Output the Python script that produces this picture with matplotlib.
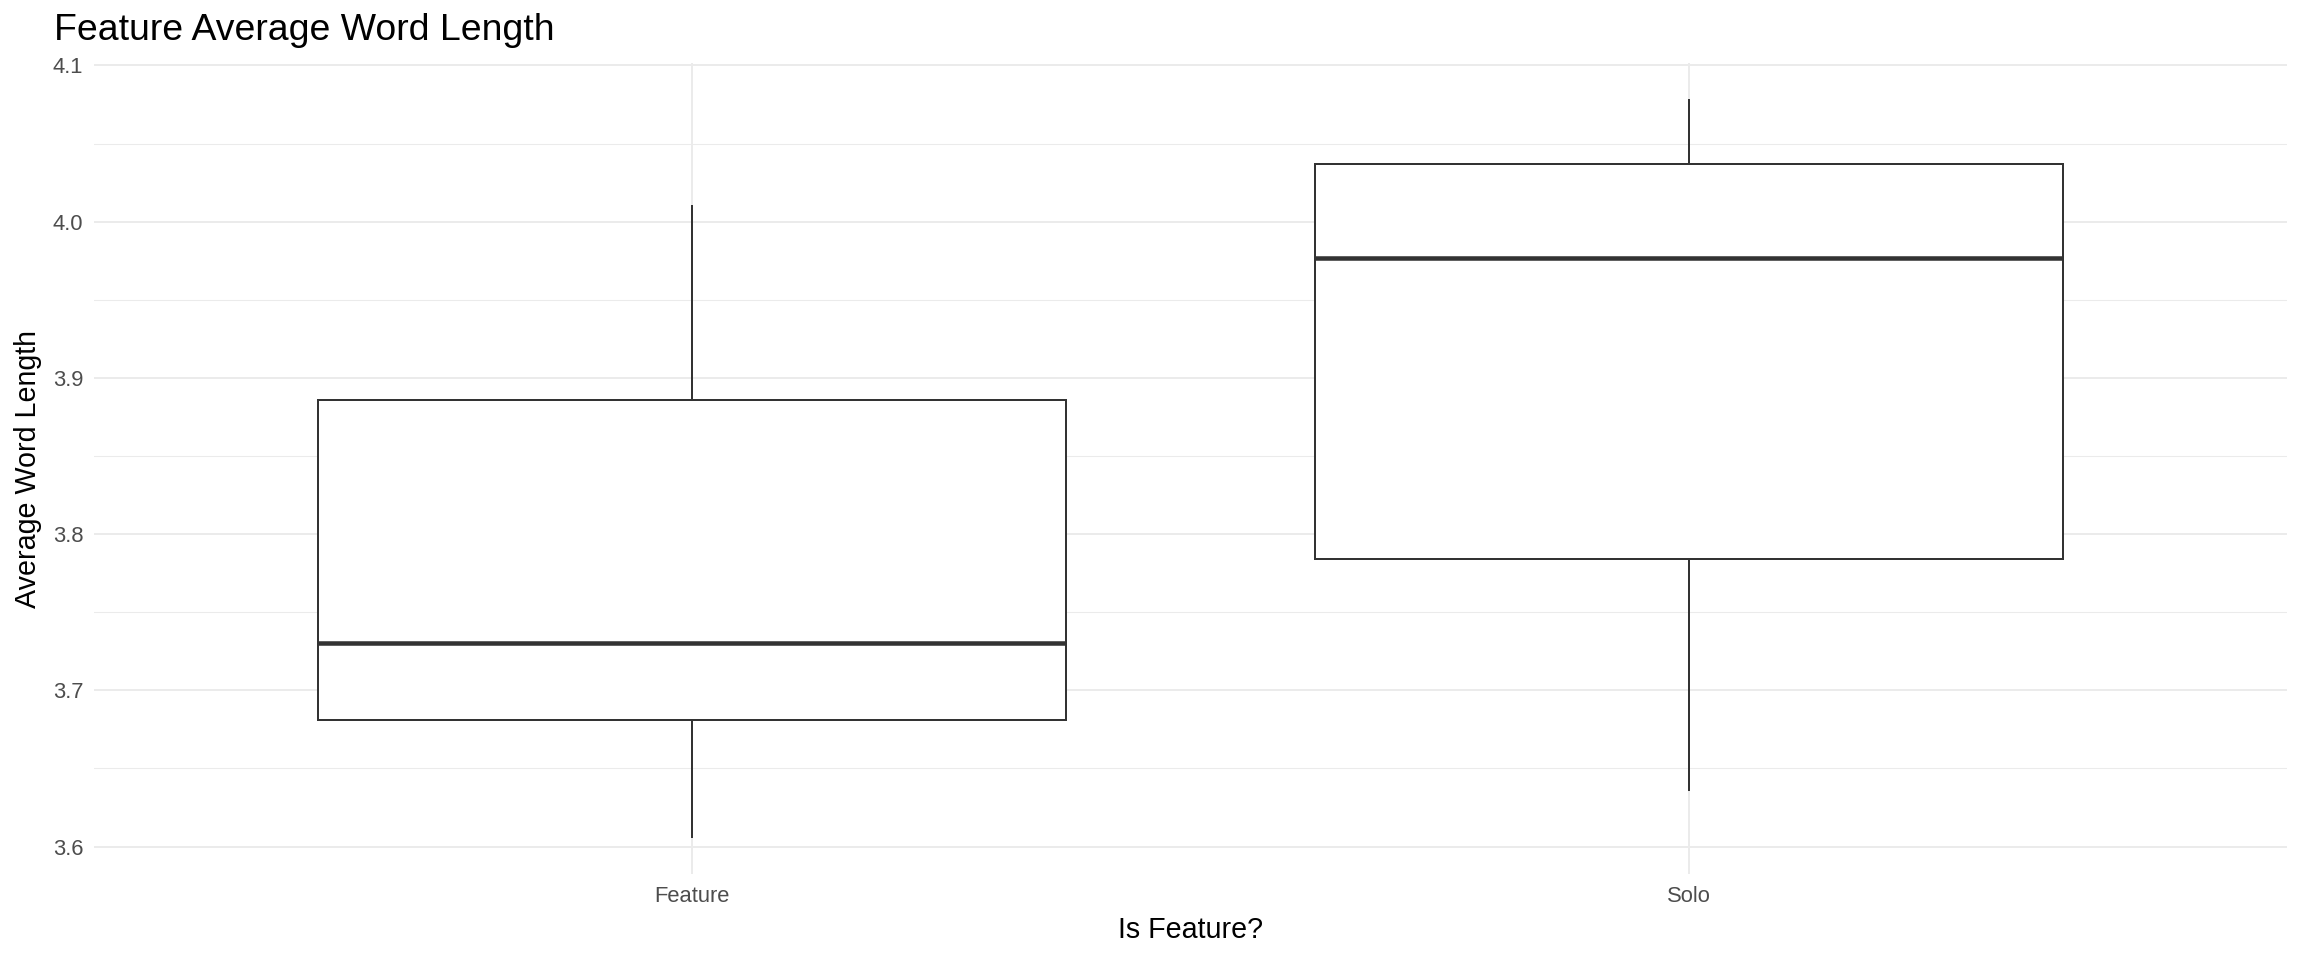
import numpy as np
import matplotlib
matplotlib.use("Agg")
import matplotlib.pyplot as plt
from matplotlib.ticker import MultipleLocator, FormatStrFormatter

plt.rcParams['font.family'] = ['Liberation Sans', 'DejaVu Sans']

# box statistics
groups = ['Feature', 'Solo']
whis_lo = [3.606, 3.636]
q1 = [3.681, 3.784]
med = [3.730, 3.977]
q3 = [3.886, 4.037]
whis_hi = [4.010, 4.078]

stats = []
for i, g in enumerate(groups):
    stats.append(dict(label=g, whislo=whis_lo[i], q1=q1[i], med=med[i],
                      q3=q3[i], whishi=whis_hi[i], fliers=[]))

fig = plt.figure(figsize=(24, 10), dpi=96)
ax = fig.add_axes([94/2304, 1-874/960, (2287-94)/2304, (874-63)/960])

pos = np.arange(1, len(groups)+1)
ax.bxp(stats, positions=pos, widths=0.75, showcaps=False, patch_artist=True,
       boxprops=dict(facecolor='white', edgecolor='#333333', linewidth=1.5),
       whiskerprops=dict(color='#333333', linewidth=1.5),
       medianprops=dict(color='#333333', linewidth=3.4, solid_capstyle='butt'),
       zorder=3)

lo = min(whis_lo); hi = max(whis_hi)
pad = (hi - lo) * 0.05
ax.set_ylim(lo - pad, hi + pad)
ax.set_xlim(0.4, len(groups) + 0.6)

ax.yaxis.set_major_locator(MultipleLocator(0.1))
ax.yaxis.set_minor_locator(MultipleLocator(0.05))
ax.yaxis.set_major_formatter(FormatStrFormatter('%.1f'))
ax.set_xticks(pos)
ax.set_xticklabels(groups)

ax.grid(which='major', color='#EBEBEB', linewidth=1.5, zorder=0)
ax.grid(which='minor', axis='y', color='#EBEBEB', linewidth=0.8, zorder=0)
ax.set_axisbelow(True)
for s in ax.spines.values():
    s.set_visible(False)
ax.tick_params(which='both', length=0)
ax.tick_params(axis='both', labelsize=16.5, labelcolor='#4D4D4D')
ax.tick_params(axis='x', pad=9)
ax.tick_params(axis='y', pad=8)

ax.set_xlabel('Is Feature?', fontsize=21.5, labelpad=7)
ax.set_ylabel('Average Word Length', fontsize=21.5, labelpad=8)
fig.text(54/2304, 1-31/960, 'Feature Average Word Length', fontsize=28,
         ha='left', va='center')

fig.savefig('out.png', dpi=96)
